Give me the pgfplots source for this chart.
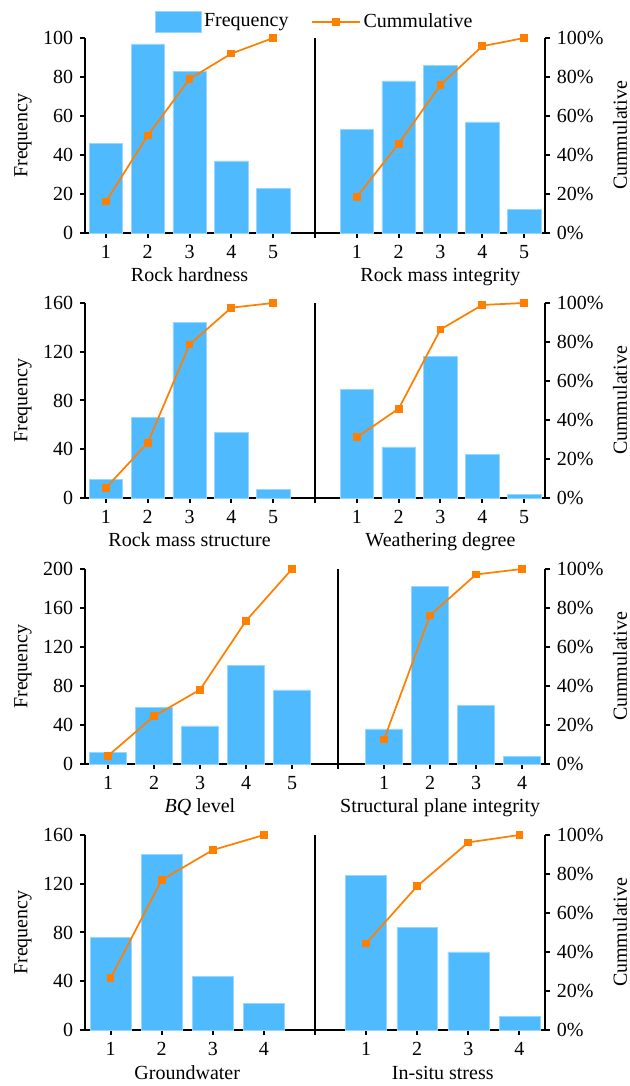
\documentclass[border=0pt]{standalone}
\usepackage{fontspec}
\setmainfont{Liberation Serif}
\usepackage{pgfplots}
\pgfplotsset{compat=1.18}
\definecolor{barblue}{RGB}{80,186,255}
\definecolor{cumorange}{RGB}{255,128,0}
\tikzset{xlab/.style={anchor=base, yshift=-36.75pt}}
\pgfplotsset{
  common/.style={
    scale only axis, width=345pt, height=146.25pt, anchor=south west,
    axis line style={-, line width=1.5pt},
    every tick/.style={black, line width=1.5pt},
    tick align=outside, major tick length=3.75pt,
    /pgf/number format/assume math mode=true,
    xmin=0.5, ymin=0, clip=false,
  },
  freqaxis/.style={
    common,
    axis x line*=bottom, axis y line*=left,
    major grid style={black, line width=1.5pt},
    extra x tick style={grid=major}, extra x tick labels={},
    ylabel={Frequency},
    ylabel style={at={(axis description cs:-0.135,0.5)}, anchor=center},
  },
  cumaxis/.style={
    common,
    axis y line*=right, hide x axis,
    ymax=100, ytick={0,20,...,100},
    yticklabels={0\%,20\%,40\%,60\%,80\%,100\%},
    ylabel={Cummulative},
    ylabel style={at={(axis description cs:1.163,0.5)}, anchor=center},
  },
  freqbar/.style={ybar, bar width=0.8, bar shift=0pt, fill=barblue, draw=barblue!60!white, line width=0.4pt},
  cumline/.style={cumorange, line width=1.3pt, mark=square*, mark size=2.25pt,
    mark options={solid, fill=cumorange, draw=cumorange}},
  barlegend/.style={legend image code/.code={\draw[fill=barblue,draw=barblue!60!white] (0pt,-7.875pt) rectangle (34.5pt,7.875pt);}},
  linelegend/.style={legend image code/.code={\draw[mark repeat=2,mark phase=2,##1] plot coordinates {(0pt,0pt) (18pt,0pt) (36pt,0pt)};}},
}
\begin{document}
\fontsize{15}{18}\selectfont
\begin{tikzpicture}
\path[use as bounding box] (0pt,0pt) rectangle (471.75pt,814.5pt);
% ---------- Row 1 ----------
\begin{axis}[freqaxis, at={(63.75pt,639.75pt)}, xmax=11.5, ymax=100, ytick={0,20,...,100},
  xtick={1,2,3,4,5,7,8,9,10,11}, xticklabels={1,2,3,4,5,1,2,3,4,5}, extra x ticks={6}]
\addplot[freqbar] coordinates {(1,46) (2,97) (3,83) (4,37) (5,23)};
\addplot[freqbar] coordinates {(7,53) (8,78) (9,86) (10,57) (11,12)};
\node[xlab] at (axis cs:3,0) {Rock hardness};
\node[xlab] at (axis cs:9,0) {Rock mass integrity};
\end{axis}
\begin{axis}[cumaxis, at={(63.75pt,639.75pt)}, xmax=11.5,
  legend columns=2,
  legend style={draw=none, fill=none, at={(axis description cs:0.5,1.083)}, anchor=center,
    /tikz/every even column/.append style={column sep=15pt}}]
\addlegendimage{barlegend}\addlegendentry{Frequency}
\addplot[cumline, linelegend] coordinates {(1,16.1) (2,50.0) (3,79.0) (4,92.0) (5,100)};
\addlegendentry{Cummulative}
\addplot[cumline, forget plot] coordinates {(7,18.5) (8,45.8) (9,75.9) (10,95.8) (11,100)};
\end{axis}
% ---------- Row 2 ----------
\begin{axis}[freqaxis, at={(63.75pt,441pt)}, xmax=11.5, ymax=160, ytick={0,40,...,160},
  xtick={1,2,3,4,5,7,8,9,10,11}, xticklabels={1,2,3,4,5,1,2,3,4,5}, extra x ticks={6}]
\addplot[freqbar] coordinates {(1,15) (2,66) (3,144) (4,54) (5,7)};
\addplot[freqbar] coordinates {(7,89) (8,42) (9,116) (10,36) (11,3)};
\node[xlab] at (axis cs:3,0) {Rock mass structure};
\node[xlab] at (axis cs:9,0) {Weathering degree};
\end{axis}
\begin{axis}[cumaxis, at={(63.75pt,441pt)}, xmax=11.5]
\addplot[cumline] coordinates {(1,5.2) (2,28.3) (3,78.7) (4,97.6) (5,100)};
\addplot[cumline] coordinates {(7,31.1) (8,45.8) (9,86.4) (10,99.0) (11,100)};
\end{axis}
% ---------- Row 3 ----------
\begin{axis}[freqaxis, at={(63.75pt,241.5pt)}, xmax=10.5, ymax=200, ytick={0,40,...,200},
  xtick={1,2,3,4,5,7,8,9,10}, xticklabels={1,2,3,4,5,1,2,3,4}, extra x ticks={6}]
\addplot[freqbar] coordinates {(1,12) (2,58) (3,39) (4,101) (5,76)};
\addplot[freqbar] coordinates {(7,36) (8,182) (9,60) (10,8)};
\node[xlab] at (axis cs:3,0) {\textit{BQ} level};
\node[xlab] at (axis cs:8.22,0) {Structural plane integrity};
\end{axis}
\begin{axis}[cumaxis, at={(63.75pt,241.5pt)}, xmax=10.5]
\addplot[cumline] coordinates {(1,4.2) (2,24.5) (3,38.1) (4,73.4) (5,100)};
\addplot[cumline] coordinates {(7,12.6) (8,76.2) (9,97.2) (10,100)};
\end{axis}
% ---------- Row 4 ----------
\begin{axis}[freqaxis, at={(63.75pt,42pt)}, xmax=9.5, ymax=160, ytick={0,40,...,160},
  xtick={1,2,3,4,6,7,8,9}, xticklabels={1,2,3,4,1,2,3,4}, extra x ticks={5}]
\addplot[freqbar] coordinates {(1,76) (2,144) (3,44) (4,22)};
\addplot[freqbar] coordinates {(6,127) (7,84) (8,64) (9,11)};
\node[xlab] at (axis cs:2.5,0) {Groundwater};
\node[xlab] at (axis cs:7.5,0) {In-situ stress};
\end{axis}
\begin{axis}[cumaxis, at={(63.75pt,42pt)}, xmax=9.5]
\addplot[cumline] coordinates {(1,26.6) (2,76.9) (3,92.3) (4,100)};
\addplot[cumline] coordinates {(6,44.4) (7,73.8) (8,96.2) (9,100)};
\end{axis}
\end{tikzpicture}
\end{document}
